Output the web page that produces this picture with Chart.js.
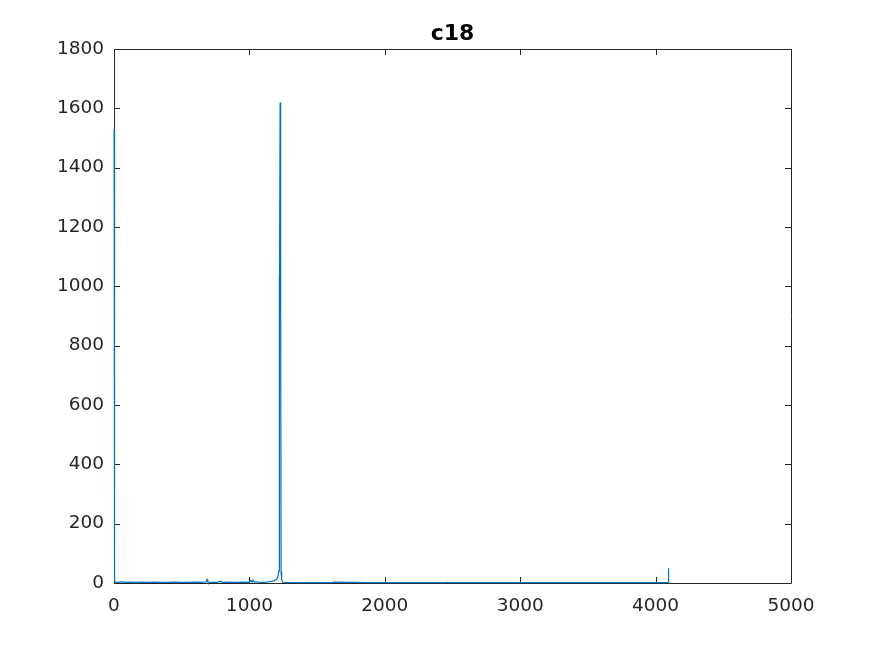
<!DOCTYPE html>
<html>
<head>
<meta charset="utf-8">
<script src="https://cdn.jsdelivr.net/npm/chart.js@4"></script>
<style>
  body { margin: 0; background: #fff; }
  canvas { display: block; }
</style>
</head>
<body>
<canvas id="c18Chart" width="875" height="656"></canvas>
<script>
// values (x = sample index, y = count)
const xs = [1, 4, 8, 30, 60, 90, 120, 160, 200, 250, 300, 350, 400, 450, 500, 550, 600, 650,
    680, 687, 693, 720, 760, 790, 800, 850, 900, 950, 1000, 1010, 1020, 1027, 1035, 1050, 1070,
    1100, 1130, 1150, 1170, 1185, 1200, 1210, 1215, 1219, 1220, 1223, 1227, 1231, 1234, 1238,
    1244, 1250, 1400, 1610, 1620, 1900, 2200, 2455, 2460, 2470, 2800, 3200, 3600, 4000, 4095, 4096];
const ys = [1530, 10, 3, 2, 4, 2, 3, 2, 3, 2, 3, 2, 2, 3, 2, 2, 3, 2,
    4, 12, 3, 2, 2, 6, 2, 3, 2, 3, 2, 9, 3, 10, 4, 4, 3,
    2, 3, 5, 6, 8, 12, 20, 33, 40, 1035, 890, 1620, 887, 40, 13,
    4, 2, 1, 1, 3, 1, 1, 1, 3, 1, 1, 1, 1, 1, 1, 50];
const xTicks = [0, 1000, 2000, 3000, 4000, 5000];
const yTicks = [0, 200, 400, 600, 800, 1000, 1200, 1400, 1600, 1800];

let points = xs.map((x, i) => ({ x: x, y: ys[i] }));

const axisColor = '#262626';
const tickFont = { family: 'DejaVu Sans', size: 18.5 };

// matlab-ish box with inward ticks (under the line), title on top
const boxPlugin = {
    id: 'box',
    beforeDatasetsDraw(chart) {
        const ctx = chart.ctx;
        const a = chart.chartArea;
        const sx = chart.scales.x, sy = chart.scales.y;
        const len = 6;
        ctx.save();
        ctx.strokeStyle = axisColor;
        ctx.lineWidth = 1;
        ctx.beginPath();
        ctx.rect(Math.round(a.left) + 0.5, Math.round(a.top) + 0.5,
            Math.round(a.right - a.left), Math.round(a.bottom - a.top));
        xTicks.forEach(v => {
            const px = Math.round(sx.getPixelForValue(v)) + 0.5;
            ctx.moveTo(px, a.bottom); ctx.lineTo(px, a.bottom - len);
            ctx.moveTo(px, a.top); ctx.lineTo(px, a.top + len);
        });
        yTicks.forEach(v => {
            const py = Math.round(sy.getPixelForValue(v)) + 0.5;
            ctx.moveTo(a.left, py); ctx.lineTo(a.left + len, py);
            ctx.moveTo(a.right, py); ctx.lineTo(a.right - len, py);
        });
        ctx.stroke();
        ctx.restore();
    },
    afterDraw(chart) {
        const ctx = chart.ctx;
        const a = chart.chartArea;
        ctx.save();
        ctx.fillStyle = '#000';
        ctx.font = 'bold 22px "DejaVu Sans"';
        ctx.textAlign = 'center';
        ctx.textBaseline = 'alphabetic';
        ctx.fillText('c18', (a.left + a.right) / 2, 40);
        ctx.restore();
    }
};

const myChart = new Chart(document.getElementById('c18Chart'), {
    type: 'line',
    data: {
        datasets: [{
            label: 'c18',
            data: points,
            borderColor: '#0072BD',
            borderWidth: 1.2,
            pointRadius: 0,
            tension: 0,
            fill: false,
            clip: 2
        }]
    },
    options: {
        responsive: false,
        animation: false,
        layout: { padding: { left: 0, right: 84, top: 49, bottom: 0 } },
        plugins: {
            legend: { display: false },
            tooltip: { enabled: false }
        },
        scales: {
            x: {
                type: 'linear',
                min: 0,
                max: 5000,
                afterFit(scale) { scale.height = 73; },
                afterBuildTicks(scale) { scale.ticks = xTicks.map(v => ({ value: v })); },
                grid: { display: false, drawTicks: false, tickLength: 0 },
                border: { display: false },
                ticks: { color: axisColor, font: tickFont, padding: 12, maxRotation: 0,
                    callback: v => String(v) }
            },
            y: {
                min: 0,
                max: 1800,
                afterFit(scale) { scale.width = 114; },
                afterBuildTicks(scale) { scale.ticks = yTicks.map(v => ({ value: v })); },
                grid: { display: false, drawTicks: false, tickLength: 0 },
                border: { display: false },
                ticks: { color: axisColor, font: tickFont, padding: 10,
                    callback: v => String(v) }
            }
        }
    },
    plugins: [boxPlugin]
});
</script>
</body>
</html>
